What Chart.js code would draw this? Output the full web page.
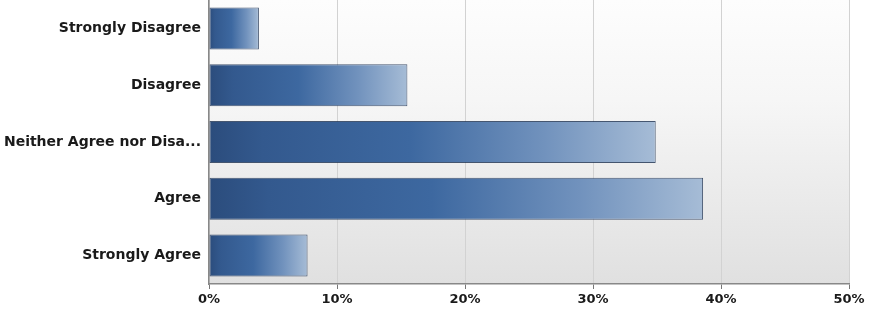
<!DOCTYPE html>
<html>
<head>
<meta charset="utf-8">
<script src="https://cdn.jsdelivr.net/npm/chart.js@4"></script>
<style>
html,body{margin:0;padding:0;background:#fff;}
#wrap{width:879px;height:315px;position:relative;}
</style>
</head>
<body>
<div id="wrap"><canvas id="c" width="879" height="315"></canvas></div>
<script>
const categories = ["Strongly Disagree", "Disagree", "Neither Agree nor Disa...", "Agree", "Strongly Agree"];
const values = [3.9, 15.5, 34.9, 38.6, 7.7];
const xTicks = [0, 10, 20, 30, 40, 50];

const bgPlugin = {
  id: 'bg',
  beforeDraw(chart) {
    const {ctx, chartArea: a} = chart;
    const g = ctx.createLinearGradient(0, a.top, 0, a.bottom);
    g.addColorStop(0, '#fdfdfd');
    g.addColorStop(0.35, '#f6f6f6');
    g.addColorStop(1, '#e0e0e0');
    ctx.save();
    ctx.fillStyle = g;
    ctx.fillRect(a.left, a.top, a.right - a.left, a.bottom - a.top);
    ctx.restore();
  }
};

function barFill(context) {
  const chart = context.chart;
  const a = chart.chartArea;
  if (!a) return '#3a659c';
  const xs = chart.scales.x;
  const v = context.raw;
  const x0 = xs.getPixelForValue(0);
  const x1 = xs.getPixelForValue(v);
  if (!(x1 > x0)) return '#3a659c';
  const g = chart.ctx.createLinearGradient(x0, 0, x1, 0);
  g.addColorStop(0, '#2b4c7c');
  g.addColorStop(0.12, '#33598e');
  g.addColorStop(0.45, '#3d68a0');
  g.addColorStop(0.75, '#7192bd');
  g.addColorStop(1, '#a6bcd6');
  return g;
}

const yFont = {family: '"DejaVu Sans", Verdana, sans-serif', size: 14, weight: 'bold'};
const xFont = {family: '"DejaVu Sans", Verdana, sans-serif', size: 13, weight: 'bold'};

new Chart(document.getElementById('c'), {
  type: 'bar',
  data: {
    labels: categories,
    datasets: [{
      data: values,
      backgroundColor: barFill,
      borderColor: 'rgba(38,58,88,0.85)',
      borderWidth: 1,
      borderSkipped: false,
      categoryPercentage: 1,
      barPercentage: 0.74
    }]
  },
  options: {
    indexAxis: 'y',
    responsive: false,
    animation: false,
    devicePixelRatio: 1,
    layout: {padding: {top: -1, right: 30, bottom: 0, left: 0}},
    plugins: {legend: {display: false}, tooltip: {enabled: false}},
    scales: {
      x: {
        min: 0, max: 50,
        afterBuildTicks(scale) { scale.ticks = xTicks.map(v => ({value: v})); },
        afterFit(scale) { scale.height = 31; },
        grid: {color: '#d2d2d2', lineWidth: 1, drawTicks: true, tickLength: 5, tickColor: '#777'},
        border: {color: '#888', width: 1.5},
        ticks: {
          callback: v => v + '%',
          color: '#1a1a1a',
          font: xFont,
          padding: 3,
          maxRotation: 0
        }
      },
      y: {
        afterFit(scale) { scale.width = 209; scale.paddingTop = 0; scale.paddingBottom = 0; },
        grid: {display: false, drawTicks: true, tickLength: 5, tickColor: '#777'},
        border: {color: '#888', width: 1.5},
        ticks: {
          color: '#1a1a1a',
          font: yFont,
          padding: 3
        }
      }
    }
  },
  plugins: [bgPlugin]
});
</script>
</body>
</html>
